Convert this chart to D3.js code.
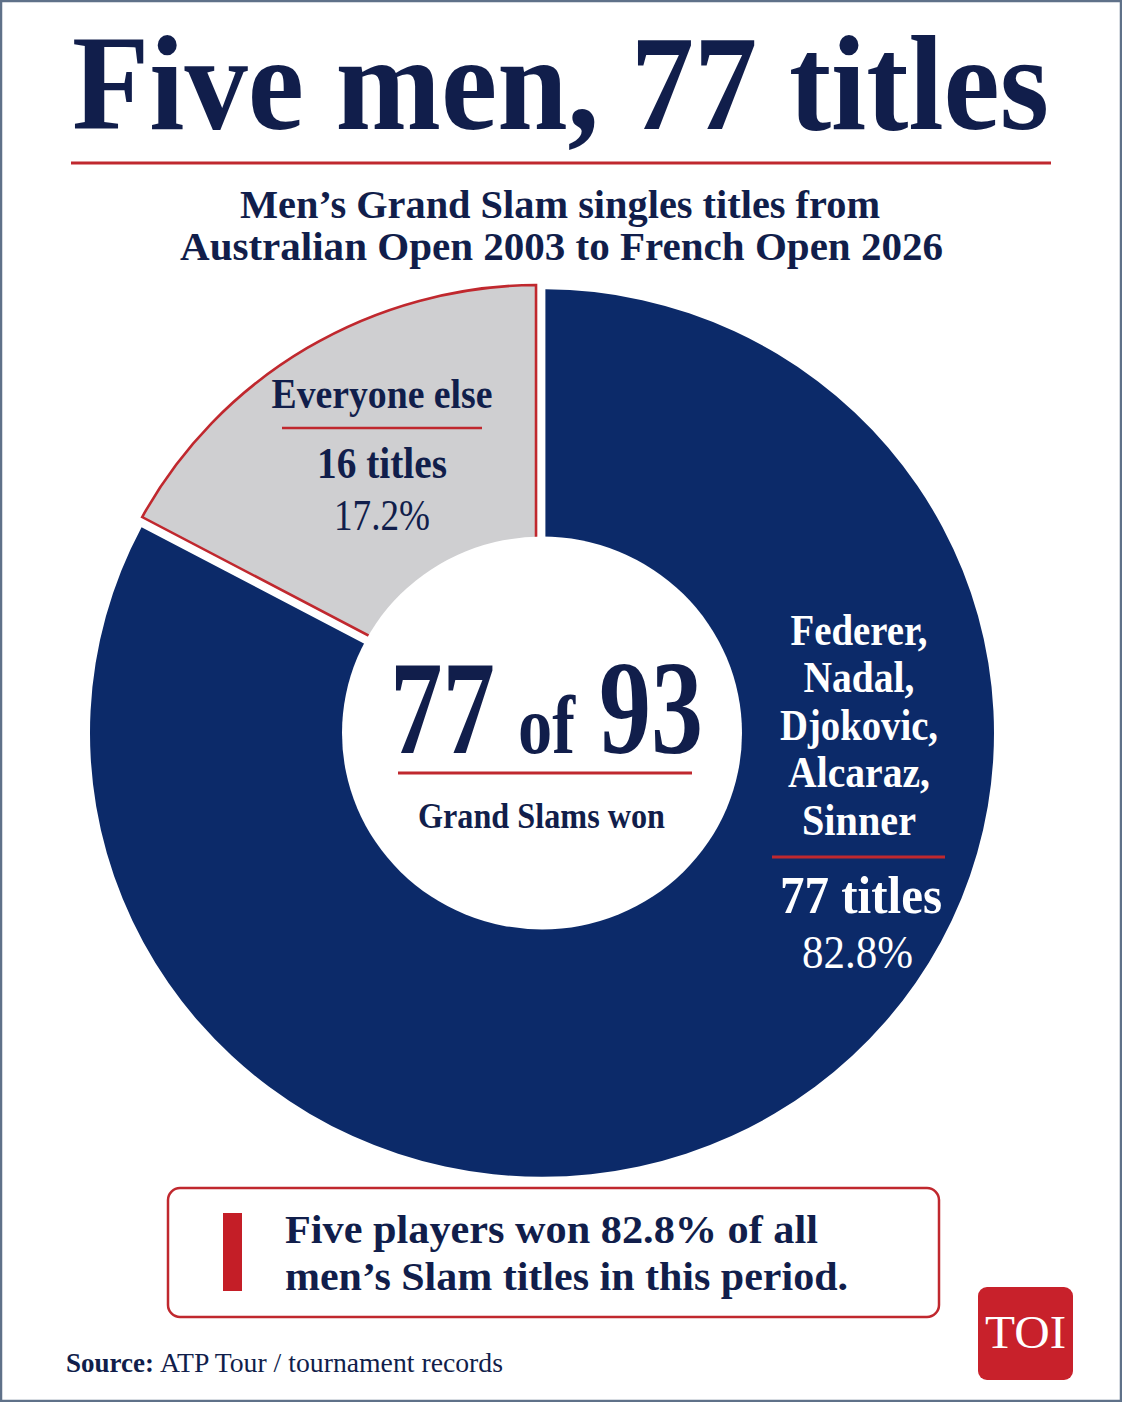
<!DOCTYPE html>
<html>
<head>
<meta charset="utf-8">
<script src="https://cdn.jsdelivr.net/npm/d3@7"></script>
<style>
  html, body { margin: 0; padding: 0; background: #ffffff; }
  svg { display: block; }
  text { font-family: "Liberation Serif", "Times New Roman", serif; }
</style>
</head>
<body>
<svg id="chart" width="1122" height="1402"></svg>
<script>
// ---------- data ----------
const categories = ["Federer, Nadal, Djokovic, Alcaraz, Sinner", "Everyone else"];
const titles = [77, 16];
const shareLabels = ["82.8%", "17.2%"];
const titleLabels = ["77 titles", "16 titles"];
const playerNames = ["Federer,", "Nadal,", "Djokovic,", "Alcaraz,", "Sinner"];
const totalTitles = 93;
const headline = "Five men, 77 titles";
const subtitleLines = ["Men\u2019s Grand Slam singles titles from", "Australian Open 2003 to French Open 2026"];
const calloutLines = ["Five players won 82.8% of all", "men\u2019s Slam titles in this period."];
const sourceLabel = "Source:";
const sourceText = "ATP Tour / tournament records";

// ---------- styles ----------
const NAVY = "#0c2a69";
const INK = "#111e4b";
const RED = "#c0282e";
const GREY = "#cfcfd1";

const svg = d3.select("#chart");

svg.append("rect").attr("x", 0).attr("y", 0).attr("width", 1122).attr("height", 1402).attr("fill", "#ffffff");

function txt(g, s, x, y, size, weight, fill, anchor, len) {
  const t = g.append("text")
    .attr("x", x).attr("y", y)
    .attr("font-size", size)
    .attr("font-weight", weight)
    .attr("fill", fill)
    .attr("text-anchor", anchor)
    .text(s);
  if (len) t.attr("textLength", len).attr("lengthAdjust", "spacingAndGlyphs");
  return t;
}

// ---------- header ----------
txt(svg, headline, 560.5, 129, 136, 700, INK, "middle", 977);
svg.append("line").attr("x1", 71).attr("x2", 1051).attr("y1", 163).attr("y2", 163)
  .attr("stroke", RED).attr("stroke-width", 3.2);
txt(svg, subtitleLines[0], 560, 218, 40, 700, INK, "middle", 640);
txt(svg, subtitleLines[1], 561.5, 260, 40, 700, INK, "middle", 763);

// ---------- donut ----------
const cx = 542, cy = 733, R = 452, r0 = 200;
const pie = d3.pie().sort(null).value(d => d).startAngle(0).endAngle(2 * Math.PI);
const arcs = pie(titles);
const arc = d3.arc().innerRadius(r0 - 14).outerRadius(R).padAngle(0.034).padRadius(200);

const ring = svg.append("g").attr("transform", `translate(${cx},${cy}) scale(1,0.982)`);
ring.selectAll("path.slice")
  .data(arcs)
  .join("path")
  .attr("class", "slice")
  .attr("d", arc)
  .attr("transform", (d, i) => {
    if (i === 0) return null;
    const mid = (d.startAngle + d.endAngle) / 2;
    const off = 5;
    return `translate(${Math.sin(mid) * off},${-Math.cos(mid) * off})`;
  })
  .attr("fill", (d, i) => i === 0 ? NAVY : GREY)
  .attr("stroke", (d, i) => i === 0 ? "none" : RED)
  .attr("stroke-width", 2.6)
  .attr("stroke-linejoin", "miter");
ring.append("circle").attr("r", r0).attr("fill", "#ffffff");

// ---------- grey slice labels ----------
txt(svg, categories[1], 382, 408, 42, 700, INK, "middle", 221);
svg.append("line").attr("x1", 282).attr("x2", 482).attr("y1", 428).attr("y2", 428)
  .attr("stroke", RED).attr("stroke-width", 2.4);
txt(svg, titleLabels[1], 382, 478, 45, 700, INK, "middle", 130);
txt(svg, shareLabels[1], 382, 530, 45, 400, INK, "middle", 96);

// ---------- center ----------
txt(svg, String(titles[0]), 390, 753, 133, 700, INK, "start", 105);
txt(svg, "of", 518, 753, 82, 700, INK, "start", 57);
txt(svg, String(totalTitles), 599, 753, 133, 700, INK, "start", 104);
svg.append("line").attr("x1", 398).attr("x2", 692).attr("y1", 773).attr("y2", 773)
  .attr("stroke", RED).attr("stroke-width", 3);
txt(svg, "Grand Slams won", 541.5, 828, 35, 700, INK, "middle", 247);

// ---------- navy slice labels ----------
const nameLens = [137, 111, 158, 142, 114];
const nameY = [645, 692, 740, 787, 835];
playerNames.forEach((n, i) => {
  txt(svg, n, 859, nameY[i], 45, 700, "#ffffff", "middle", nameLens[i]);
});
svg.append("line").attr("x1", 772).attr("x2", 945).attr("y1", 857).attr("y2", 857)
  .attr("stroke", RED).attr("stroke-width", 3);
txt(svg, titleLabels[0], 861, 913, 52, 700, "#ffffff", "middle", 162);
txt(svg, shareLabels[0], 857.5, 968, 47, 400, "#ffffff", "middle", 111);

// ---------- callout box ----------
svg.append("rect").attr("x", 168).attr("y", 1188).attr("width", 771).attr("height", 129)
  .attr("rx", 12).attr("fill", "#ffffff").attr("stroke", RED).attr("stroke-width", 2.5);
svg.append("rect").attr("x", 223).attr("y", 1213).attr("width", 19).attr("height", 78)
  .attr("fill", "#c41e27");
txt(svg, calloutLines[0], 285, 1243, 41, 700, INK, "start", 533);
txt(svg, calloutLines[1], 285, 1290, 41, 700, INK, "start", 563);

// ---------- source ----------
txt(svg, sourceLabel, 66, 1372, 27, 700, INK, "start", 88);
txt(svg, sourceText, 160, 1372, 27, 400, INK, "start", 343);

// ---------- logo ----------
svg.append("rect").attr("x", 978).attr("y", 1287).attr("width", 95).attr("height", 93)
  .attr("rx", 9).attr("fill", "#c8212b");
txt(svg, "TOI", 1025.5, 1348, 46, 400, "#ffffff", "middle", 81);

// ---------- frame ----------
svg.append("rect").attr("x", 1).attr("y", 1).attr("width", 1120).attr("height", 1400)
  .attr("fill", "none").attr("stroke", "#5f7189").attr("stroke-width", 2.5);
</script>
</body>
</html>
